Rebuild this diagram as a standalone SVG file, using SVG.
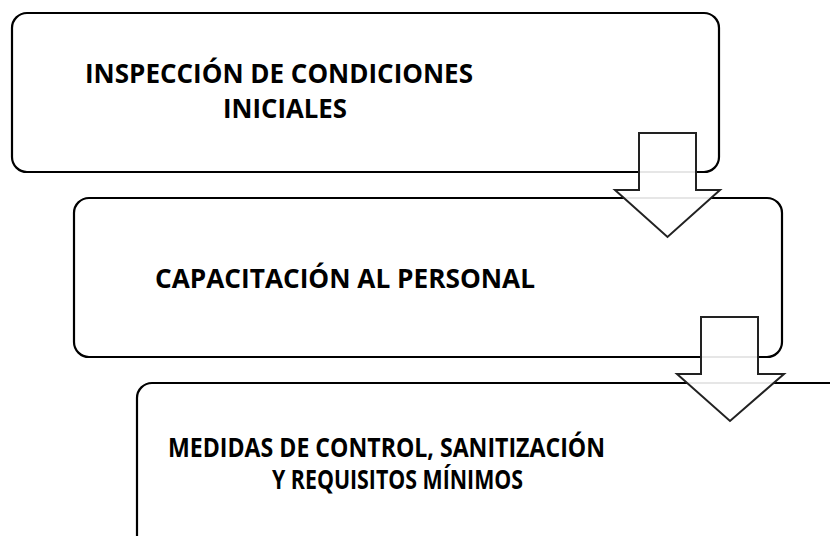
<svg xmlns="http://www.w3.org/2000/svg" width="830" height="536" viewBox="0 0 830 536">
<style>
.box{fill:#ffffff;stroke:#000000;stroke-width:2.2}
.arrow{fill:#ffffff;fill-opacity:0.9;stroke:#222222;stroke-width:2}
.t{font-family:"Open Sans","Noto Sans","Liberation Sans",sans-serif;font-weight:700;font-size:26.5px;fill:#000000}
</style>
<rect width="830" height="536" fill="#ffffff"/>
<g id="node1">
<rect class="box" x="12" y="13" width="707" height="159" rx="15" ry="15"/>
<text class="t" x="85" y="83.3" textLength="388" lengthAdjust="spacingAndGlyphs">INSPECCIÓN DE CONDICIONES</text>
<text class="t" x="223" y="118.3" textLength="124" lengthAdjust="spacingAndGlyphs">INICIALES</text>
</g>
<g id="node2">
<rect class="box" x="74" y="198" width="708" height="159" rx="15" ry="15"/>
<text class="t" x="155" y="287.5" textLength="380" lengthAdjust="spacingAndGlyphs">CAPACITACIÓN AL PERSONAL</text>
</g>
<g id="node3">
<rect class="box" x="137" y="383" width="760" height="220" rx="15" ry="15"/>
<text class="t" x="168" y="456.5" textLength="437" lengthAdjust="spacingAndGlyphs">MEDIDAS DE CONTROL, SANITIZACIÓN</text>
<text class="t" x="272" y="488.5" textLength="251" lengthAdjust="spacingAndGlyphs">Y REQUISITOS MÍNIMOS</text>
</g>
<g id="connectors">
<polygon class="arrow" points="639,133 696,133 696,190 720,190 667.5,237 615,190 639,190"/>
<polygon class="arrow" points="701,317 758,317 758,374 784,374 730,421 677,374 701,374"/>
</g>
</svg>
